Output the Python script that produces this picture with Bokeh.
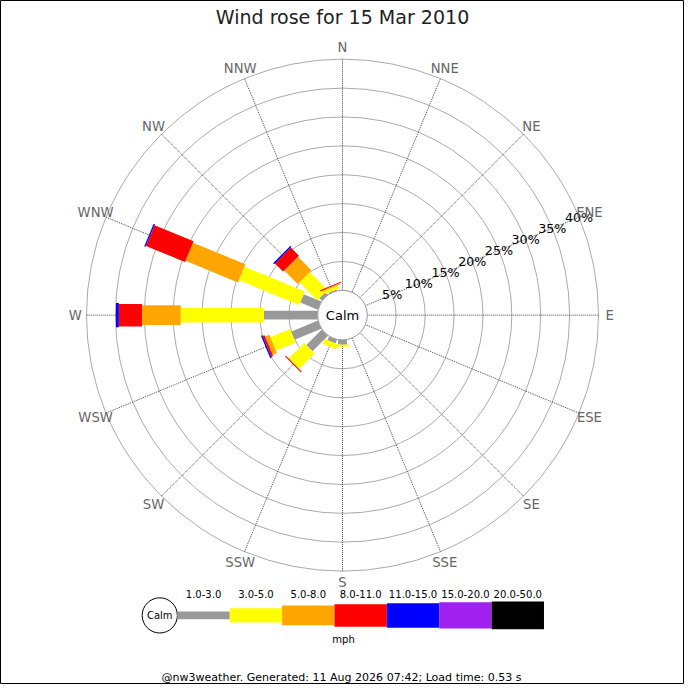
import numpy as np
from bokeh.plotting import figure
from bokeh.models import Range1d
from bokeh.embed import file_html
from bokeh.resources import INLINE
from bokeh.core.properties import value

# ---------------- data ----------------
title = "Wind rose for 15 Mar 2010"
directions = ["N", "NNE", "NE", "ENE", "E", "ESE", "SE", "SSE",
              "S", "SSW", "SW", "WSW", "W", "WNW", "NW", "NNW"]
speed_bins = ["1.0-3.0", "3.0-5.0", "5.0-8.0", "8.0-11.0",
              "11.0-15.0", "15.0-20.0", "20.0-50.0"]
speed_unit = "mph"
ring_pcts = [5, 10, 15, 20, 25, 30, 35, 40]

# percentage of time per direction, per speed bin (N ... NNW)
pct_1_3 = [0, 0, 0, 0, 0, 0, 0, 0, 0.8, 0.7, 3.8, 5.0, 9.3, 3.3, 0.6, 0.2]
pct_3_5 = [0, 0, 0, 0, 0, 0, 0, 0, 0.35, 0.9, 3.8, 3.7, 14.4, 11.3, 4.4, 0.6]
pct_5_8 = [0, 0, 0, 0, 0, 0, 0, 0, 0, 0, 0, 0.8, 6.7, 9.8, 3.3, 0.2]
pct_8_11 = [0, 0, 0, 0, 0, 0, 0, 0, 0, 0, 0.2, 0.35, 4.0, 7.3, 2.0, 0.15]
pct_11_15 = [0, 0, 0, 0, 0, 0, 0, 0, 0, 0, 0, 0.25, 0.5, 0.25, 0.25, 0]
pct_15_20 = [0] * 16
pct_20_50 = [0] * 16
footer = "@nw3weather. Generated: 11 Aug 2026 07:42; Load time: 0.53 s"

series = [pct_1_3, pct_3_5, pct_5_8, pct_8_11, pct_11_15, pct_15_20, pct_20_50]

# ---------------- styles / geometry ----------------
bin_colors = ["#999999", "#ffff00", "#ffa500", "#ff0000", "#0000ff", "#a020f0", "#000000"]
bar_widths = [9, 15, 20, 23, 25, 27, 28]
legend_heights = [8, 14.7, 20.3, 23, 25, 27, 28.3]
CX, CY = 350.0, 322.0
R0 = 25.4
K = (262.0 - R0) / 40.0
SIZE = 684
S = SIZE / 700.0
FONT = value("DejaVu Sans")


def rad(p):
    return R0 + K * p


def fs(px):
    return "%.2fpx" % (px * S)


p = figure(width=SIZE, height=SIZE, x_range=Range1d(0, 700), y_range=Range1d(700, 0),
           output_backend="svg", toolbar_location=None, min_border=0)
p.axis.visible = False
p.grid.visible = False
p.outline_line_color = "black"
p.outline_line_width = 1
p.background_fill_color = "white"
p.border_fill_color = "white"

# rings
p.circle(x=[CX] * len(ring_pcts), y=[CY] * len(ring_pcts),
         radius=[rad(v) for v in ring_pcts], fill_color=None,
         line_color="#aaaaaa", line_width=1)

# radial dotted lines
angs = np.deg2rad(np.arange(len(directions)) * 360.0 / len(directions))
ux, uy = np.sin(angs), -np.cos(angs)
p.segment(x0=CX + ux * rad(0), y0=CY + uy * rad(0),
          x1=CX + ux * rad(ring_pcts[-1]), y1=CY + uy * rad(ring_pcts[-1]),
          line_color="#444444", line_width=1, line_dash="1 1")

# bars
xs, ys, cols = [], [], []
for d in range(len(directions)):
    cum = 0.0
    vx, vy = np.cos(angs[d]), np.sin(angs[d])
    for b, ser in enumerate(series):
        v = ser[d]
        if v <= 0:
            continue
        r0, r1 = rad(cum), rad(cum + v)
        h = bar_widths[b] / 2.0
        pts = [(r0, -h), (r1, -h), (r1, h), (r0, h)]
        xs.append([CX + ux[d] * rr + vx * ww for rr, ww in pts])
        ys.append([CY + uy[d] * rr + vy * ww for rr, ww in pts])
        cols.append(bin_colors[b])
        cum += v
p.patches(xs=xs, ys=ys, fill_color=cols, line_color=None)

# calm circle
p.circle(x=[CX], y=[CY], radius=R0, fill_color="white", line_color="#999999", line_width=1)
p.text(x=[CX], y=[CY], text=["Calm"], text_font=FONT, text_font_size=fs(13.3),
       text_align="center", text_baseline="middle", text_color="black")

# percentage labels along ENE
a_lab = np.deg2rad(67.5)
p.text(x=[CX + np.sin(a_lab) * rad(v) for v in ring_pcts],
       y=[CY - np.cos(a_lab) * rad(v) for v in ring_pcts],
       text=["%d%%" % v for v in ring_pcts], text_font=FONT, text_font_size=fs(13),
       text_align="center", text_baseline="middle", text_color="black")

# direction labels
RL = 273.5
p.text(x=list(CX + ux * RL), y=list(CY + uy * RL), text=directions, text_font=FONT,
       text_font_size=fs(13.5), text_align="center", text_baseline="middle",
       text_color="#666666")

# title
p.text(x=[350], y=[17], text=[title], text_font=FONT, text_font_size=fs(19.5),
       text_align="center", text_baseline="middle", text_color="#222222")

# legend
LX0, LW, LY = 181.0, 53.6, 629.3
p.circle(x=[163], y=[LY], radius=18, fill_color="white", line_color="black", line_width=1)
p.text(x=[163], y=[LY], text=["Calm"], text_font=FONT, text_font_size=fs(10.2),
       text_align="center", text_baseline="middle", text_color="black")
lefts = [LX0 + i * LW for i in range(len(speed_bins))]
rights = [l + LW for l in lefts]
p.quad(left=lefts, right=rights,
       top=[LY - h / 2 for h in legend_heights], bottom=[LY + h / 2 for h in legend_heights],
       fill_color=bin_colors, line_color=None)
p.text(x=[l + LW / 2 for l in lefts], y=[607] * len(speed_bins), text=speed_bins,
       text_font=FONT, text_font_size=fs(10.3), text_align="center",
       text_baseline="middle", text_color="black")
p.text(x=[351], y=[654], text=[speed_unit], text_font=FONT, text_font_size=fs(10.3),
       text_align="center", text_baseline="middle", text_color="black")

# footer
p.text(x=[349], y=[693], text=[footer], text_font=FONT, text_font_size=fs(11.3),
       text_align="center", text_baseline="middle", text_color="black")

open("out.html", "w").write(file_html(p, INLINE))
